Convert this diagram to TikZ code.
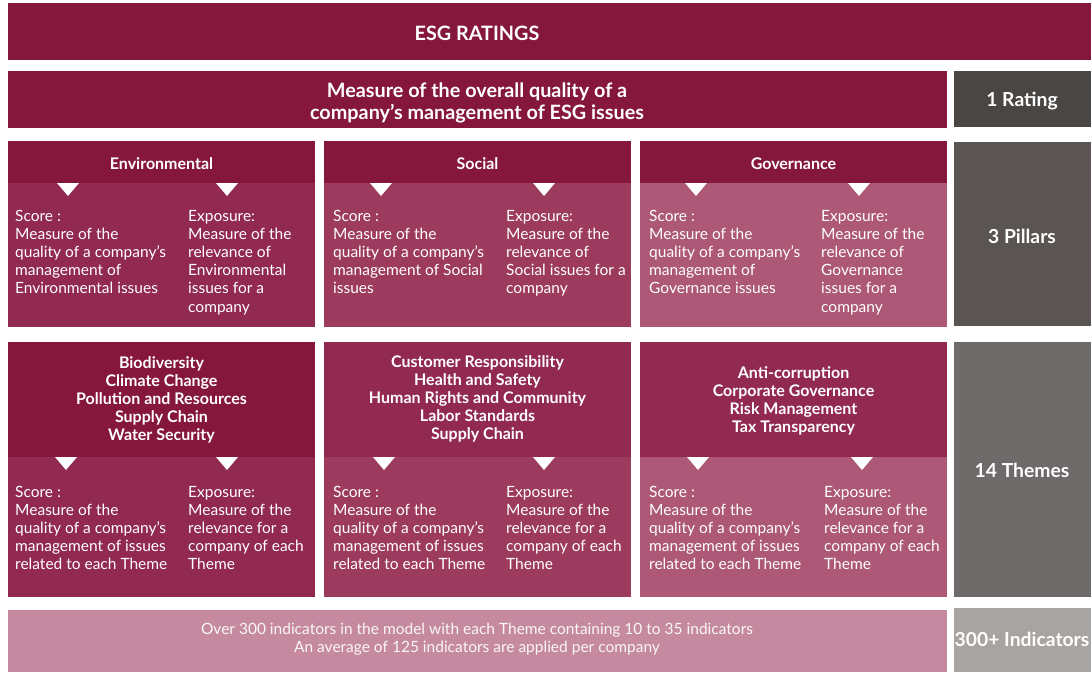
\documentclass[tikz,border=0pt]{standalone}
\usepackage{fontspec}
\setmainfont{Lato}
\definecolor{maroon}{HTML}{85173C}
\definecolor{envbody}{HTML}{912950}
\definecolor{socbody}{HTML}{9D3B5E}
\definecolor{govbody}{HTML}{AC5876}
\definecolor{ratinggrey}{HTML}{4A4643}
\definecolor{pillargrey}{HTML}{5A5552}
\definecolor{themegrey}{HTML}{6E6A69}
\definecolor{indgrey}{HTML}{A8A4A1}
\definecolor{bottompink}{HTML}{C58A9F}
\newcommand\downtri[2]{\fill[white] (#1-11,#2) -- (#1+11,#2) -- (#1,#2+13) -- cycle;}
\begin{document}
\begin{tikzpicture}[x=1pt,y=-1pt,
  txt/.style={text=white, inner sep=0pt},
  titlef/.style={txt, font=\fontsize{19.8}{21.5}\selectfont\bfseries, align=center},
  sidef/.style={txt, font=\fontsize{19.3}{21}\selectfont\bfseries},
  headf/.style={txt, font=\fontsize{16}{18}\selectfont\bfseries, align=center},
  bodyf/.style={txt, font=\fontsize{15.5}{18.2}\selectfont, align=left, anchor=base west},
  footf/.style={txt, font=\fontsize{15.5}{18}\selectfont, align=center, text=white!92!bottompink}]
\useasboundingbox (0,0) rectangle (1091,672);
\fill[white] (0,0) rectangle (1091,672);
% top bar
\fill[maroon] (8,3) rectangle (1091,60);
\node[titlef] (title) at (477,33) {ESG RATINGS};
% row 2
\fill[maroon] (8,71) rectangle (947,128);
\fill[ratinggrey] (954,71) rectangle (1091,127);
\node[titlef] (overall) at (477,103) {Measure of the overall quality of a\\company’s management of ESG issues};
\node[sidef] (rating) at (1022,101.5) {1 Rating};
% pillars
\fill[maroon] (8,141) rectangle (315,183);
\fill[envbody] (8,183) rectangle (315,327);
\fill[maroon] (324,141) rectangle (631,183);
\fill[socbody] (324,183) rectangle (631,327);
\fill[maroon] (640,141) rectangle (947,183);
\fill[govbody] (640,183) rectangle (947,327);
\fill[pillargrey] (954,142) rectangle (1091,326);
\node[headf] (envh) at (161.5,164) {Environmental};
\node[headf] (soch) at (477.5,164) {Social};
\node[headf] (govh) at (793.5,164) {Governance};
\node[sidef] (pillars) at (1022,236.5) {3 Pillars};
\downtri{68}{183}\downtri{227}{183}
\downtri{381}{183}\downtri{544}{183}
\downtri{696}{183}\downtri{859}{183}
% base anchor = baseline of last line; first baseline at 221, step 18.2
\node[bodyf] (envs) at (15,293.8) {Score :\\Measure of the\\quality of a company’s\\management of\\Environmental issues};
\node[bodyf] (enve) at (188,312) {Exposure:\\Measure of the\\relevance of\\Environmental\\issues for a\\company};
\node[bodyf] (socs) at (333,293.8) {Score :\\Measure of the\\quality of a company’s\\management of Social\\issues};
\node[bodyf] (soce) at (506,293.8) {Exposure:\\Measure of the\\relevance of\\Social issues for a\\company};
\node[bodyf] (govs) at (649,293.8) {Score :\\Measure of the\\quality of a company’s\\management of\\Governance issues};
\node[bodyf] (gove) at (821,312) {Exposure:\\Measure of the\\relevance of\\Governance\\issues for a\\company};
% themes
\fill[maroon] (8,342) rectangle (315,457);
\fill[envbody] (8,457) rectangle (315,597);
\fill[envbody] (324,342) rectangle (631,457);
\fill[socbody] (324,457) rectangle (631,597);
\fill[envbody] (640,342) rectangle (947,457);
\fill[govbody] (640,457) rectangle (947,597);
\fill[themegrey] (954,342) rectangle (1091,597);
\node[headf] (envt) at (161.5,400) {Biodiversity\\Climate Change\\Pollution and Resources\\Supply Chain\\Water Security};
\node[headf] (soct) at (477.5,399) {Customer Responsibility\\Health and Safety\\Human Rights and Community\\Labor Standards\\Supply Chain};
\node[headf] (govt) at (793.5,401) {Anti-corruption\\Corporate Governance\\Risk Management\\Tax Transparency};
\node[sidef] (themes) at (1022,470.5) {14 Themes};
\downtri{66}{457}\downtri{227}{457}
\downtri{384}{457}\downtri{544}{457}
\downtri{698}{457}\downtri{862}{457}
\node[bodyf] (envts) at (15,569.8) {Score :\\Measure of the\\quality of a company’s\\management of issues\\related to each Theme};
\node[bodyf] (envte) at (188,569.8) {Exposure:\\Measure of the\\relevance for a\\company of each\\Theme};
\node[bodyf] (socts) at (333,569.8) {Score :\\Measure of the\\quality of a company’s\\management of issues\\related to each Theme};
\node[bodyf] (socte) at (506,569.8) {Exposure:\\Measure of the\\relevance for a\\company of each\\Theme};
\node[bodyf] (govts) at (649,569.8) {Score :\\Measure of the\\quality of a company’s\\management of issues\\related to each Theme};
\node[bodyf] (govte) at (824,569.8) {Exposure:\\Measure of the\\relevance for a\\company of each\\Theme};
% indicators
\fill[bottompink] (8,610) rectangle (947,672);
\fill[indgrey] (954,608) rectangle (1091,672);
\node[footf] (foot) at (477,639.5) {Over 300 indicators in the model with each Theme containing 10 to 35 indicators\\An average of 125 indicators are applied per company};
\node[sidef] (indicators) at (1022,639) {300+ Indicators};
\end{tikzpicture}
\end{document}
